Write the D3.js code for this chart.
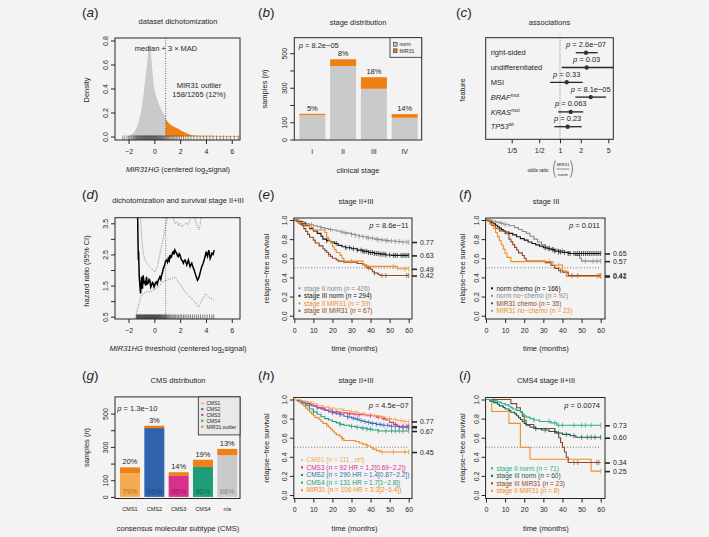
<!DOCTYPE html>
<html>
<head>
<meta charset="utf-8">
<script src="https://cdn.jsdelivr.net/npm/d3@7"></script>
<style>
  body { margin: 0; background: #f3f3f3; }
  svg { font-family: "Liberation Sans", Arial, Helvetica, sans-serif; }
</style>
</head>
<body>
<svg id="fig" width="709" height="537"></svg>
<script>
// ---------- (a) density of MIR31HG ----------
const aDensX = [-2.2, -2.0, -1.7, -1.36, -1.15, -0.97, -0.84, -0.71, -0.6, -0.53, -0.45, -0.38, -0.3, -0.2, -0.07, 0.05, 0.19, 0.32, 0.45, 0.58, 0.71, 0.88];
const aDensY = [0, 0.004, 0.02, 0.08, 0.15, 0.245, 0.35, 0.47, 0.57, 0.64, 0.72, 0.77, 0.72, 0.61, 0.45, 0.37, 0.32, 0.28, 0.245, 0.215, 0.19, 0.175];
const aOutX = [0.88, 1.05, 1.23, 1.5, 1.75, 2.0, 2.26, 2.5, 2.78, 3.05, 3.3, 4.0, 5.0, 6.0, 6.7];
const aOutY = [0.15, 0.12, 0.1, 0.083, 0.068, 0.055, 0.04, 0.028, 0.015, 0.01, 0.008, 0.006, 0.005, 0.004, 0.003];
const cutoff = 0.88;
const aRug = [-2.45, -2.3, -2.12, -2.0, -1.91, -1.82, -1.74, -1.66, -1.6, -1.53, -1.47, -1.42, -1.37, -1.33, -1.28, -1.24, -1.19, -1.15, -1.11, -1.06, -1.02, -0.98, -0.93, -0.89, -0.85, -0.81, -0.77, -0.73, -0.69, -0.65, -0.61, -0.57, -0.53, -0.49, -0.45, -0.41, -0.37, -0.33, -0.29, -0.25, -0.21, -0.17, -0.13, -0.09, -0.05, -0.01, 0.03, 0.07, 0.11, 0.15, 0.19, 0.24, 0.28, 0.33, 0.37, 0.42, 0.46, 0.51, 0.56, 0.61, 0.66, 0.71, 0.77, 0.83, 0.9, 0.97, 1.04, 1.12, 1.2, 1.29, 1.38, 1.48, 1.59, 1.7, 1.83, 1.96, 2.1, 2.26, 2.43, 2.62, 2.83, 3.05, 3.3, 3.55, 3.8, 4.05, 4.3, 4.55, 4.82, 5.1, 5.35, 5.62, 5.9, 6.2, 6.5];

// ---------- (b) stage distribution ----------
const stages = ["I", "II", "III", "IV"];
const stageNorm = [141, 426, 294, 126];
const stageMir = [8, 39, 67, 21];
const stagePct = ["5%", "8%", "18%", "14%"];

// ---------- (c) associations ----------
const features = ["right-sided", "undifferentiated", "MSI", "BRAF", "KRAS", "TP53"];
const featSup = ["", "", "", "mut", "mut", "wt"];
const orEst = [2.38, 2.43, 1.25, 2.78, 1.43, 1.29];
const orLo = [1.69, 1.06, 0.72, 1.67, 0.94, 0.83];
const orHi = [3.51, 7.0, 2.13, 4.63, 2.17, 2.06];
const orP = ["2.6e\u221207", "0.03", "0.33", "8.1e\u221205", "0.063", "0.23"];
const orTicks = [0.2, 0.5, 1, 2, 5];
const orTickLab = ["1/5", "1/2", "1", "2", "5"];

// ---------- (d) threshold scan ----------
const dX = [-1.3, -1.27, -1.24, -1.22, -1.19, -1.17, -1.12, -1.07, -1.03, -0.99, -0.95, -0.92, -0.87, -0.8, -0.74, -0.68, -0.61, -0.55, -0.48, -0.41, -0.35, -0.28, -0.22, -0.15, -0.09, -0.02, 0.04, 0.1, 0.17, 0.23, 0.3, 0.37, 0.43, 0.5, 0.56, 0.62, 0.69, 0.75, 0.82, 0.88, 0.95, 1.02, 1.08, 1.15, 1.21, 1.28, 1.34, 1.4, 1.47, 1.53, 1.6, 1.66, 1.73, 1.8, 1.86, 1.93, 1.99, 2.06, 2.12, 2.19, 2.25, 2.32, 2.38, 2.45, 2.51, 2.58, 2.64, 2.71, 2.77, 2.84, 2.9, 2.97, 3.03, 3.1, 3.16, 3.25, 3.34, 3.42, 3.5, 3.59, 3.68, 3.77, 3.86, 3.94, 4.02, 4.07, 4.12, 4.17, 4.22, 4.28, 4.33, 4.4, 4.46, 4.55, 4.64];
const dHR = [3.9, 3.0, 2.32, 2.6, 2.1, 1.78, 1.5, 1.25, 1.45, 1.78, 1.55, 1.4, 1.83, 1.6, 1.62, 1.5, 1.78, 1.55, 1.57, 1.7, 1.67, 1.45, 1.51, 1.6, 1.57, 1.45, 1.51, 1.6, 1.62, 1.55, 1.67, 1.72, 1.78, 1.7, 1.83, 1.9, 2.04, 2.1, 2.2, 2.3, 2.32, 2.25, 2.37, 2.3, 2.48, 2.4, 2.43, 2.55, 2.59, 2.5, 2.64, 2.58, 2.54, 2.45, 2.43, 2.52, 2.48, 2.38, 2.32, 2.28, 2.22, 2.3, 2.32, 2.25, 2.16, 2.24, 2.32, 2.2, 2.11, 2.18, 2.22, 2.12, 2.06, 1.98, 1.9, 1.78, 1.67, 1.72, 1.83, 1.98, 2.11, 2.2, 2.32, 2.45, 2.59, 2.48, 2.43, 2.55, 2.64, 2.5, 2.37, 2.45, 2.54, 2.5, 2.64];
const dUpX = [-1.15, -1.05, -0.99, -0.93, -0.87, -0.8, -0.74, -0.6, -0.48, -0.35, -0.22, -0.1, 0.04, 0.15, 0.25, 0.35, 0.45, 0.55, 0.65, 0.75, 0.85, 0.95, 1.05, 1.3, 1.5, 1.62, 1.75, 1.88, 2.0, 2.15, 2.3, 2.45, 2.6, 2.75, 2.9, 3.1, 3.25, 3.35, 3.45, 3.55, 3.7];
const dUpHR = [4.2, 3.6, 3.07, 2.8, 2.59, 2.45, 2.32, 2.25, 2.16, 2.1, 2.06, 2.0, 1.94, 2.02, 2.15, 2.35, 2.55, 2.75, 2.95, 3.15, 3.35, 3.55, 3.75, 3.8, 3.62, 3.48, 3.55, 3.42, 3.5, 3.38, 3.46, 3.52, 3.45, 3.6, 3.75, 3.7, 3.5, 3.38, 3.3, 3.45, 3.9];
const dLoX = [-1.5, -1.42, -1.32, -1.2, -1.07, -0.87, -0.61, -0.35, -0.09, 0.17, 0.43, 0.69, 0.95, 1.15, 1.34, 1.6, 1.86, 2.12, 2.38, 2.58, 2.77, 2.97, 3.16, 3.3, 3.42, 3.55, 3.68, 3.81, 3.94, 4.07, 4.2, 4.33, 4.46, 4.64];
const dLoHR = [0.45, 0.55, 0.71, 0.92, 1.13, 1.24, 1.3, 1.3, 1.35, 1.4, 1.51, 1.62, 1.67, 1.7, 1.72, 1.78, 1.62, 1.46, 1.3, 1.2, 1.13, 1.05, 0.97, 0.88, 0.81, 0.9, 1.02, 1.12, 1.24, 1.2, 1.13, 1.1, 1.08, 1.02];
const dRug = [-1.38, -1.34, -1.3, -1.26, -1.22, -1.18, -1.14, -1.1, -1.06, -1.02, -0.98, -0.94, -0.9, -0.86, -0.82, -0.78, -0.74, -0.7, -0.66, -0.62, -0.58, -0.54, -0.5, -0.46, -0.42, -0.38, -0.34, -0.3, -0.26, -0.22, -0.18, -0.14, -0.1, -0.06, -0.02, 0.02, 0.06, 0.1, 0.14, 0.18, 0.22, 0.26, 0.3, 0.34, 0.38, 0.42, 0.46, 0.5, 0.55, 0.6, 0.65, 0.7, 0.75, 0.8, 0.86, 0.92, 0.98, 1.05, 1.12, 1.2, 1.28, 1.37, 1.46, 1.56, 1.66, 1.77, 1.88, 2.0, 2.12, 2.25, 2.38, 2.52, 2.66, 2.8, 2.95, 3.1, 3.26, 3.42, 3.58, 3.75, 3.92, 4.1, 4.28, 4.46, 4.6];

// ---------- (e) stage II+III ----------
const eIInorm = [[0,1],[2,0.99],[4,0.975],[6,0.96],[8,0.95],[10,0.94],[12,0.93],[14,0.92],[16,0.91],[18,0.9],[20,0.895],[22,0.885],[24,0.875],[26,0.865],[28,0.86],[30,0.85],[32,0.84],[34,0.83],[36,0.825],[38,0.815],[40,0.81],[42,0.8],[44,0.795],[46,0.79],[48,0.785],[50,0.78],[53,0.775],[56,0.77]];
const eIIInorm = [[0,1],[2,0.98],[4,0.96],[6,0.94],[8,0.91],[10,0.885],[12,0.86],[14,0.83],[15,0.8],[17,0.785],[19,0.77],[21,0.755],[23,0.735],[25,0.72],[27,0.71],[30,0.7],[33,0.685],[36,0.672],[39,0.66],[42,0.65],[45,0.643],[48,0.635],[51,0.63]];
const eIImir = [[0,1],[2,0.974],[5,0.95],[8,0.92],[10,0.895],[16,0.87],[17,0.82],[18,0.79],[19,0.76],[20,0.72],[21,0.69],[22,0.66],[24,0.63],[25,0.6],[26,0.57],[36,0.54],[37,0.515],[54,0.49]];
const eIIImir = [[0,1],[1,0.985],[2,0.97],[3,0.955],[4,0.94],[5,0.91],[6,0.88],[7,0.85],[8,0.82],[10,0.79],[11,0.76],[13,0.73],[15,0.7],[16,0.68],[17,0.66],[18,0.64],[19,0.62],[20,0.6],[22,0.585],[23,0.57],[26,0.56],[33,0.545],[36,0.53],[38,0.5],[40,0.485],[41,0.46],[42,0.445],[44,0.43],[45,0.42]];
const eIInormC = [9, 14, 19, 25, 27, 30, 32, 34, 36, 38, 39, 41, 43, 44, 46, 48, 49, 51, 53, 55, 57, 59, 60];
const eIIInormC = [5, 17, 22, 27, 29, 31, 33, 35, 36, 37, 38, 39, 40, 41, 42, 43, 44, 45, 46, 47, 48, 50, 52, 53, 54, 56, 57, 58, 59, 60];
const eIImirC = [30, 52, 58, 60];
const eIIImirC = [18, 39, 42, 46, 48, 59, 60];
const eLegend = ["stage II norm", "stage III norm", "stage II MIR31", "stage III MIR31"];
const eN = [426, 294, 39, 67];
const eEnd = [0.77, 0.63, 0.49, 0.42];

// ---------- (f) stage III, chemo ----------
const fNormChemo = [[0,1],[1,0.99],[2,0.98],[3,0.97],[4,0.96],[5,0.945],[6,0.93],[7,0.915],[8,0.9],[9,0.885],[10,0.875],[12,0.86],[14,0.845],[16,0.825],[18,0.805],[20,0.79],[22,0.77],[24,0.755],[26,0.74],[28,0.725],[30,0.71],[32,0.7],[34,0.69],[36,0.675],[38,0.665],[40,0.66],[43,0.65]];
const fNormNo = [[0,1],[3,0.99],[5,0.978],[7,0.967],[9,0.955],[12,0.94],[15,0.92],[17,0.9],[19,0.88],[21,0.86],[23,0.83],[25,0.8],[27,0.77],[29,0.74],[31,0.72],[33,0.705],[35,0.695],[38,0.68],[41,0.665],[44,0.65],[47,0.63],[49,0.6],[50,0.57]];
const fMirChemo = [[0,1],[2,0.971],[3,0.943],[5,0.914],[7,0.886],[10,0.857],[12,0.8],[13,0.771],[14,0.743],[15,0.714],[16,0.686],[17,0.657],[19,0.629],[20,0.6],[21,0.571],[31,0.555],[34,0.525],[36,0.495],[38,0.47],[40,0.455],[43,0.42]];
const fMirNo = [[0,1],[2,0.957],[4,0.913],[5,0.87],[6,0.826],[7,0.783],[8,0.739],[9,0.696],[10,0.652],[11,0.609],[13,0.565],[35,0.53],[40,0.47],[42,0.41]];
const fNormChemoC = [31, 33, 35, 36, 38, 39, 41, 43, 44, 46, 47, 48, 49, 50, 51, 52, 53, 54, 55, 56, 57, 58, 59, 60];
const fNormNoC = [8, 10, 29, 31, 33, 35, 40, 52, 56, 58, 60];
const fMirChemoC = [39, 45, 48, 59, 60];
const fMirNoC = [33, 38, 58, 60];
const fLegend = ["norm chemo", "norm no\u2212chemo", "MIR31 chemo", "MIR31 no\u2212chemo"];
const fN = [166, 92, 35, 23];
const fEnd = [0.65, 0.57, 0.42, 0.41];

// ---------- (g) CMS distribution ----------
const cms = ["CMS1", "CMS2", "CMS3", "CMS4", "n/a"];
const cmsMain = [141, 413, 126, 180, 250];
const cmsMir = [36, 14, 22, 43, 38];
const cmsTopPct = ["20%", "3%", "14%", "19%", "13%"];
const cmsBotPct = ["79%", "96%", "85%", "80%", "86%"];
const cmsLegend = ["CMS1", "CMS2", "CMS3", "CMS4", "MIR31 outlier"];

// ---------- (h) CMS survival ----------
const hCms1 = [[0,1],[3,0.985],[6,0.97],[9,0.955],[12,0.935],[15,0.92],[18,0.91],[21,0.9],[25,0.885],[29,0.87],[33,0.855],[37,0.84],[41,0.83],[45,0.815],[48,0.8],[51,0.79],[54,0.78],[57,0.77]];
const hCms3 = [[0,1],[3,0.978],[6,0.956],[9,0.934],[12,0.912],[16,0.89],[20,0.87],[24,0.86],[28,0.85],[32,0.84],[38,0.83],[43,0.815],[46,0.8],[48,0.785],[50,0.76],[52,0.74],[54,0.72]];
const hCms2 = [[0,1],[2,0.99],[4,0.975],[6,0.96],[8,0.945],[10,0.93],[12,0.915],[14,0.9],[16,0.885],[18,0.87],[20,0.86],[22,0.85],[24,0.84],[26,0.825],[28,0.815],[30,0.805],[32,0.795],[34,0.78],[36,0.77],[38,0.76],[40,0.75],[43,0.74],[46,0.73],[50,0.72],[55,0.71]];
const hCms4 = [[0,1],[2,0.985],[4,0.96],[6,0.935],[8,0.9],[10,0.87],[12,0.845],[14,0.82],[16,0.8],[18,0.785],[20,0.77],[22,0.755],[24,0.74],[26,0.73],[29,0.72],[32,0.71],[35,0.7],[38,0.69],[41,0.68],[44,0.67]];
const hMir = [[0,1],[1,0.99],[2,0.98],[3,0.965],[4,0.95],[5,0.93],[6,0.91],[7,0.89],[8,0.87],[9,0.85],[10,0.83],[11,0.81],[13,0.79],[14,0.77],[15,0.75],[17,0.73],[18,0.71],[19,0.69],[20,0.67],[21,0.65],[22,0.63],[24,0.61],[25,0.59],[26,0.57],[32,0.56],[34,0.545],[36,0.53],[38,0.515],[40,0.5],[41,0.48],[43,0.465],[45,0.45]];
const hCms1C = [10, 18, 26, 30, 33, 37, 42, 46, 50, 53, 56, 58, 60];
const hCms3C = [15, 22, 29, 34, 40, 44, 47, 53, 57, 59, 60];
const hCms2C = [7, 12, 20, 24, 28, 31, 33, 35, 37, 39, 41, 43, 45, 47, 49, 51, 53, 55, 57, 59, 60];
const hCms4C = [10, 24, 30, 33, 36, 38, 40, 44, 48, 51, 53, 55, 57, 60];
const hMirC = [17, 25, 38, 46, 52, 58, 60];
const hLegend = ["CMS1", "CMS3", "CMS2", "CMS4", "MIR31"];
const hN = [111, 92, 290, 131, 106];
const hHR = [" , ref)", " HR = 1.2[0.69\u22122.2])", " HR = 1.4[0.87\u22122.2])", " HR = 1.7[1\u22122.8])", " HR = 3.3[2\u22125.4])"];
const hEnd = [0.77, 0.72, 0.71, 0.67, 0.45];
const hEndLab = ["0.77", "", "", "0.67", "0.45"];

// ---------- (i) CMS4 stage II+III ----------
const iIInorm = [[0,1],[3,0.986],[6,0.972],[8,0.958],[10,0.944],[12,0.93],[13,0.915],[14,0.9],[16,0.886],[18,0.87],[19,0.85],[20,0.83],[21,0.815],[23,0.8],[25,0.785],[28,0.77],[34,0.755],[37,0.73]];
const iIIInorm = [[0,1],[2,0.983],[4,0.967],[6,0.95],[7,0.933],[9,0.917],[10,0.9],[12,0.883],[13,0.867],[15,0.85],[16,0.83],[17,0.81],[18,0.79],[19,0.77],[20,0.75],[21,0.73],[23,0.71],[26,0.695],[29,0.68],[33,0.665],[37,0.65],[40,0.635],[44,0.62],[47,0.605]];
const iIIImir = [[0,1],[13,0.957],[16,0.913],[18,0.87],[19,0.826],[20,0.783],[21,0.739],[25,0.696],[36,0.652],[38,0.6],[39,0.55],[40,0.5],[41,0.45],[42,0.395],[43,0.34]];
const iIImir = [[0,1],[3,0.875],[12,0.75],[18,0.5],[23,0.375],[55,0.25]];
const iIInormC = [5, 25, 33, 36, 38, 40, 46, 50, 52, 55, 60];
const iIIInormC = [26, 31, 36, 38, 42, 46, 50, 53, 55, 57, 60];
const iIIImirC = [4, 46, 48, 58, 59];
const iIImirC = [60];
const iLegend = ["stage II norm", "stage III norm", "stage III MIR31", "stage II MIR31"];
const iN = [71, 60, 23, 8];
const iEnd = [0.73, 0.60, 0.34, 0.25];

// ---------- colours ----------
const ink = "#262626";
const bg = "#f3f3f3";
const greyBar = "#cacaca";
const orange = "#f07f14";
const kmGrey = "#8a8a8a", kmBlack = "#141414", kmOrange = "#f28b26", kmBrown = "#8c4a28";
const cmsCol = ["#f6aa52", "#2f64ac", "#d8318b", "#1f9d78", greyBar];
const hCol = ["#f6aa52", "#d8318b", "#3a6cb2", "#1f9d78", kmOrange];
const iCol = ["#2bae88", "#1c5a47", kmBrown, kmOrange];

const svg = d3.select("#fig");
svg.append("rect").attr("width", 709).attr("height", 537).attr("fill", bg);

// text with italic / sub / superscript pieces
function rich(x, y, parts, o = {}) {
  const size = o.size || 7.5;
  const t = svg.append("text").attr("x", x).attr("y", y).attr("font-size", size)
    .attr("fill", o.fill || ink).attr("text-anchor", o.anchor || "middle");
  if (o.rot) t.attr("transform", `rotate(${o.rot},${x},${y})`);
  let shift = 0;
  [].concat(parts).forEach(p => {
    if (typeof p === "string") p = { t: p };
    const want = p.sub ? size * 0.3 : p.sup ? -size * 0.4 : 0;
    const s = t.append("tspan").text(p.t).attr("dy", want - shift);
    shift = want;
    if (p.it) s.attr("font-style", "italic");
    if (p.sub || p.sup) s.attr("font-size", size * 0.68);
  });
  return t;
}

function panelLabel(x, y, letter) {
  rich(x, y, ["(", { t: letter, it: true }, ")"], { size: 13.5, anchor: "start" });
}

function box(x0, y0, x1, y1) {
  svg.append("rect").attr("x", x0).attr("y", y0).attr("width", x1 - x0).attr("height", y1 - y0)
    .attr("fill", "none").attr("stroke", ink).attr("stroke-width", 1);
}

function xAxis(scale, y, vals, fmt, size = 7) {
  const g = svg.append("g").attr("transform", `translate(0,${y})`)
    .call(d3.axisBottom(scale).tickValues(vals).tickFormat(fmt).tickSize(4).tickPadding(5));
  g.select(".domain").remove();
  g.attr("font-family", null).attr("font-size", size).attr("color", ink);
  return g;
}

function yAxis(scale, x, vals, fmt) {
  const g = svg.append("g").attr("transform", `translate(${x},0)`)
    .call(d3.axisLeft(scale).tickValues(vals).tickFormat(fmt).tickSize(4));
  g.select(".domain").remove();
  g.attr("font-family", null).attr("font-size", 7).attr("color", ink);
  g.selectAll("text").attr("x", 0).attr("dy", null).attr("text-anchor", "middle")
    .attr("transform", "translate(-7,0) rotate(-90)");
  return g;
}

function endAxis(scale, x, vals, labs) {
  const g = svg.append("g").attr("transform", `translate(${x},0)`)
    .call(d3.axisRight(scale).tickValues(vals).tickFormat((d, i) => labs[i]).tickSize(5).tickPadding(3));
  g.select(".domain").remove();
  g.attr("font-family", null).attr("font-size", 7).attr("color", ink);
  g.selectAll("line").attr("stroke-width", 1.6);
  return g;
}

function stepAt(pts, t) {
  let s = pts[0][1];
  pts.forEach(p => { if (p[0] <= t) s = p[1]; });
  return s;
}

function kmCurve(xs, ys, pts, cens, color) {
  const last = pts[pts.length - 1][1];
  const data = pts.concat([[60, last]]);
  svg.append("path").datum(data)
    .attr("d", d3.line().x(d => xs(d[0])).y(d => ys(d[1])).curve(d3.curveStepAfter))
    .attr("fill", "none").attr("stroke", color).attr("stroke-width", 1.1);
  svg.append("g").selectAll("line").data(cens).join("line")
    .attr("x1", d => xs(d)).attr("x2", d => xs(d))
    .attr("y1", d => ys(stepAt(pts, d)) - 2.5).attr("y2", d => ys(stepAt(pts, d)) + 2.5)
    .attr("stroke", color).attr("stroke-width", 0.7);
}

function kmLegend(x, ys, labels, ns, extra, colors, size = 6.5) {
  labels.forEach((lab, i) => {
    svg.append("rect").attr("x", x - 1).attr("y", ys[i] - 3.2).attr("width", 2).attr("height", 2).attr("fill", colors[i]);
    rich(x + 4.5, ys[i], [lab + " (", { t: "n", it: true }, " = " + ns[i] + (extra ? extra[i] : ")")],
      { size: size, anchor: "start", fill: colors[i] });
  });
}

function kmFrame(xs, ys, bx0, by0, bx1, by1) {
  svg.append("line").attr("x1", xs(0)).attr("x2", xs(60)).attr("y1", ys(0.5)).attr("y2", ys(0.5))
    .attr("stroke", "#555").attr("stroke-width", 0.8).attr("stroke-dasharray", "1,1.8");
  box(bx0, by0, bx1, by1);
  xAxis(xs, by1, [0, 10, 20, 30, 40, 50, 60], d3.format("d"));
  yAxis(ys, bx0, [0, 0.2, 0.4, 0.6, 0.8, 1.0], d3.format(".1f"));
}

// ================= (a) =================
{
  const x = d3.scaleLinear().domain([-3.05, 6.64]).range([115, 240]);
  const y = d3.scaleLinear().domain([-0.029, 0.821]).range([140, 38]);
  const area = d3.area().x(d => x(d[0])).y0(y(0)).y1(d => y(d[1])).curve(d3.curveMonotoneX);
  svg.append("path").datum(d3.zip(aDensX, aDensY)).attr("d", area).attr("fill", greyBar);
  svg.append("path").datum(d3.zip(aOutX, aOutY)).attr("d", area).attr("fill", orange);
  svg.append("g").selectAll("line").data(aRug).join("line")
    .attr("x1", d => x(d)).attr("x2", d => x(d)).attr("y1", 140).attr("y2", 135.5)
    .attr("stroke", "#000").attr("stroke-opacity", 0.5).attr("stroke-width", 0.8);
  svg.append("line").attr("x1", x(cutoff)).attr("x2", x(cutoff)).attr("y1", 38).attr("y2", 140)
    .attr("stroke", "#444").attr("stroke-width", 0.8).attr("stroke-dasharray", "1,1.5");
  box(115, 38, 240, 140);
  xAxis(x, 140, [-2, 0, 2, 4, 6], d3.format("d"));
  yAxis(y, 115, [0, 0.2, 0.4, 0.6, 0.8], d3.format(".1f"));
  rich(166, 51, "median + 3 \u00d7 MAD");
  rich(199, 87.5, "MIR31 outlier");
  rich(199, 96.5, "158/1265 (12%)");
  panelLabel(82, 17, "a");
  rich(178, 24, "dataset dichotomization");
  rich(178, 171.5, [{ t: "MIR31HG", it: true }, " (centered log", { t: "2", sub: true }, "signal)"]);
  rich(88.5, 90, "Density", { rot: -90 });
}

// ================= (b) =================
{
  const x = d3.scaleBand().domain(stages).range([299.3, 417.7]).paddingInner(0.156).paddingOuter(0);
  const y = d3.scaleLinear().domain([0, 590]).range([139.5, 37.7]);
  stages.forEach((s, i) => {
    svg.append("rect").attr("x", x(s)).attr("width", x.bandwidth())
      .attr("y", y(stageNorm[i])).attr("height", y(0) - y(stageNorm[i])).attr("fill", greyBar);
    svg.append("rect").attr("x", x(s)).attr("width", x.bandwidth())
      .attr("y", y(stageNorm[i] + stageMir[i])).attr("height", y(stageNorm[i]) - y(stageNorm[i] + stageMir[i]))
      .attr("fill", orange);
    rich(x(s) + x.bandwidth() / 2, y(stageNorm[i] + stageMir[i]) - 3, stagePct[i]);
  });
  box(294.3, 37.7, 421.7, 140);
  xAxis(x, 140, stages, d => d).selectAll(".tick line").remove();
  yAxis(y, 294.3, [0, 100, 200, 300, 400, 500], d => (d === 200 || d === 400) ? "" : d);
  // legend
  svg.append("rect").attr("x", 390).attr("y", 37.7).attr("width", 31.7).attr("height", 19.6)
    .attr("fill", bg).attr("stroke", ink).attr("stroke-width", 0.8);
  [["norm", greyBar, 44.3], ["MIR31", orange, 50.7]].forEach(l => {
    svg.append("rect").attr("x", 393.5).attr("y", l[2] - 1.8).attr("width", 3.6).attr("height", 3.6)
      .attr("fill", l[1]).attr("stroke", ink).attr("stroke-width", 0.6);
    rich(399.5, l[2] + 1.8, l[0], { size: 5, anchor: "start" });
  });
  rich(298.7, 47.5, [{ t: "p", it: true }, " = 8.2e\u221205"], { anchor: "start" });
  panelLabel(258, 17, "b");
  rich(358, 24.5, "stage distribution");
  rich(358, 173, "clinical stage");
  rich(267, 89, ["samples (", { t: "n", it: true }, ")"], { rot: -90 });
}

// ================= (c) =================
{
  const x = d3.scaleLog().domain([0.0841, 5.906]).range([485.7, 613.3]).clamp(true);
  const y = d3.scalePoint().domain(features).range([52.7, 126.7]);
  svg.append("line").attr("x1", x(1)).attr("x2", x(1)).attr("y1", 37.7).attr("y2", 139.3)
    .attr("stroke", "#666").attr("stroke-width", 0.8).attr("stroke-dasharray", "1,1.5");
  features.forEach((f, i) => {
    const yy = y(f);
    svg.append("line").attr("x1", x(orLo[i])).attr("x2", x(orHi[i])).attr("y1", yy).attr("y2", yy)
      .attr("stroke", ink).attr("stroke-width", 1.3);
    svg.append("circle").attr("cx", x(orEst[i])).attr("cy", yy).attr("r", 2.2).attr("fill", "#333");
    rich(x(orEst[i]), yy - 5.5, [{ t: "p", it: true }, " = " + orP[i]]);
    const lab = featSup[i] ? [{ t: f, it: true }, { t: featSup[i], sup: true }] : f;
    rich(490.7, yy + 2.6, lab, { anchor: "start" });
  });
  box(485.7, 37.7, 613.3, 139.3);
  xAxis(x, 139.3, orTicks, (d, i) => orTickLab[i]);
  panelLabel(456, 17, "c");
  rich(549.5, 24.5, "associations");
  rich(465.2, 90, "feature", { rot: -90 });
  rich(538, 171.5, "odds ratio", { size: 4.8 });
  svg.append("path").attr("d", "M555.5,160.5 Q551.5,169 555.5,177.5").attr("fill", "none").attr("stroke", ink).attr("stroke-width", 0.6);
  svg.append("path").attr("d", "M570.5,160.5 Q574.5,169 570.5,177.5").attr("fill", "none").attr("stroke", ink).attr("stroke-width", 0.6);
  svg.append("line").attr("x1", 556.5).attr("x2", 569.5).attr("y1", 169).attr("y2", 169).attr("stroke", ink).attr("stroke-width", 0.5);
  rich(563, 166, "MIR31", { size: 4.3 });
  rich(563, 175.5, "norm", { size: 4.3 });
}

// ================= (d) =================
{
  const x = d3.scaleLinear().domain([-3.05, 6.64]).range([115, 240]);
  const y = d3.scaleLinear().domain([0.426, 3.68]).range([319, 217.7]);
  svg.append("clipPath").attr("id", "clipD").append("rect").attr("x", 115).attr("y", 217.7).attr("width", 125).attr("height", 101.3);
  const g = svg.append("g").attr("clip-path", "url(#clipD)");
  const line = d3.line().x(d => x(d[0])).y(d => y(d[1]));
  g.append("path").datum(d3.zip(dUpX, dUpHR)).attr("d", line).attr("fill", "none")
    .attr("stroke", "#777").attr("stroke-width", 0.9).attr("stroke-dasharray", "1,1.3");
  g.append("path").datum(d3.zip(dLoX, dLoHR)).attr("d", line).attr("fill", "none")
    .attr("stroke", "#777").attr("stroke-width", 0.9).attr("stroke-dasharray", "1,1.3");
  g.append("path").datum(d3.zip(dX, dHR)).attr("d", line).attr("fill", "none")
    .attr("stroke", "#000").attr("stroke-width", 1.5);
  g.append("line").attr("x1", x(cutoff)).attr("x2", x(cutoff)).attr("y1", 217.7).attr("y2", 319)
    .attr("stroke", "#555").attr("stroke-width", 0.8).attr("stroke-dasharray", "1,1.5");
  svg.append("g").selectAll("line").data(dRug).join("line")
    .attr("x1", d => x(d)).attr("x2", d => x(d)).attr("y1", 319).attr("y2", 314.5)
    .attr("stroke", "#000").attr("stroke-opacity", 0.6).attr("stroke-width", 0.8);
  box(115, 217.7, 240, 319);
  xAxis(x, 319, [-2, 0, 2, 4, 6], d3.format("d"));
  yAxis(y, 115, [0.5, 1, 1.5, 2, 2.5, 3, 3.5], d => (Math.round(d * 2) % 2 === 1) ? d.toFixed(1) : "");
  panelLabel(82, 199, "d");
  rich(178, 203, "dichotomization and survival stage II+III");
  rich(178, 351, [{ t: "MIR31HG", it: true }, " threshold (centered log", { t: "2", sub: true }, "signal)"]);
  rich(88.5, 271, "hazard ratio (95% CI)", { rot: -90 });
}

// ================= (e) =================
{
  const x = d3.scaleLinear().domain([0, 60]).range([294.3, 408.7]);
  const y = d3.scaleLinear().domain([0, 1]).range([315.7, 220]);
  kmFrame(x, y, 293.8, 218, 412, 319);
  kmCurve(x, y, eIInorm, eIInormC, kmGrey);
  kmCurve(x, y, eIIInorm, eIIInormC, kmBlack);
  kmCurve(x, y, eIIImir, eIIImirC, kmBrown);
  kmCurve(x, y, eIImir, eIImirC, kmOrange);
  endAxis(y, 412, eEnd, eEnd.map(d3.format(".2f")));
  kmLegend(299.5, [290.5, 298, 305.5, 313], eLegend, eN, null, [kmGrey, kmBlack, kmOrange, kmBrown]);
  rich(408.7, 228, [{ t: "p", it: true }, " = 8.6e\u221211"], { anchor: "end" });
  panelLabel(258, 199, "e");
  rich(356, 203.5, "stage II+III");
  rich(354.5, 351, "time (months)");
  rich(268.5, 268.5, "relapse\u2212free survival", { rot: -90 });
}

// ================= (f) =================
{
  const x = d3.scaleLinear().domain([0, 60]).range([486, 600.7]);
  const y = d3.scaleLinear().domain([0, 1]).range([315.7, 220]);
  kmFrame(x, y, 485.6, 218, 605, 319);
  kmCurve(x, y, fNormNo, fNormNoC, kmGrey);
  kmCurve(x, y, fNormChemo, fNormChemoC, kmBlack);
  kmCurve(x, y, fMirChemo, fMirChemoC, kmBrown);
  kmCurve(x, y, fMirNo, fMirNoC, kmOrange);
  endAxis(y, 605, fEnd, fEnd.map(d3.format(".2f")));
  kmLegend(492, [290.5, 298, 305.5, 313], fLegend, fN, null, [kmBlack, kmGrey, kmBrown, kmOrange]);
  rich(600, 228, [{ t: "p", it: true }, " = 0.011"], { anchor: "end" });
  panelLabel(459, 199, "f");
  rich(546, 203.5, "stage III");
  rich(545.8, 351, "time (months)");
  rich(465.2, 268.5, "relapse\u2212free survival", { rot: -90 });
}

// ================= (g) =================
{
  const x = d3.scaleBand().domain(cms).range([120, 237.3]).paddingInner(0.177).paddingOuter(0);
  const y = d3.scaleLinear().domain([0, 600]).range([496.9, 396.9]);
  cms.forEach((c, i) => {
    const top = cmsMain[i] + cmsMir[i];
    svg.append("rect").attr("x", x(c)).attr("width", x.bandwidth())
      .attr("y", y(cmsMain[i])).attr("height", y(0) - y(cmsMain[i])).attr("fill", cmsCol[i]);
    svg.append("rect").attr("x", x(c)).attr("width", x.bandwidth())
      .attr("y", y(top)).attr("height", y(cmsMain[i]) - y(top)).attr("fill", orange);
    rich(x(c) + x.bandwidth() / 2, y(top) - 3, cmsTopPct[i]);
    rich(x(c) + x.bandwidth() / 2, 494.3, cmsBotPct[i], { fill: d3.color(cmsCol[i]).darker(1.1).formatHex() });
  });
  box(115, 396.9, 240, 498.5);
  xAxis(x, 498.5, cms, d => d, 5.5).selectAll(".tick line").remove();
  yAxis(y, 115, [0, 100, 200, 300, 400, 500], d => (d === 200 || d === 400) ? "" : d);
  svg.append("rect").attr("x", 198.3).attr("y", 396.9).attr("width", 41.7).attr("height", 38)
    .attr("fill", "#e9e9e9").attr("stroke", ink).attr("stroke-width", 0.8);
  const legCol = cmsCol.slice(0, 4).concat([orange]);
  const legY = [403.3, 409.1, 414.9, 420.8, 426.7];
  cmsLegend.forEach((l, i) => {
    svg.append("rect").attr("x", 201.3).attr("y", legY[i] - 1).attr("width", 2).attr("height", 2).attr("fill", legCol[i]);
    rich(206.5, legY[i] + 1.8, l, { size: 5, anchor: "start" });
  });
  rich(117.3, 411, [{ t: "p", it: true }, " = 1.3e\u221210"], { anchor: "start" });
  panelLabel(82, 380, "g");
  rich(178, 383, "CMS distribution");
  rich(178, 531, "consensus molecular subtype (CMS)");
  rich(88.5, 447.5, ["samples (", { t: "n", it: true }, ")"], { rot: -90 });
}

// ================= (h) =================
{
  const x = d3.scaleLinear().domain([0, 60]).range([294.3, 408.7]);
  const y = d3.scaleLinear().domain([0, 1]).range([495, 399.5]);
  kmFrame(x, y, 293.8, 397.5, 412, 498.5);
  kmCurve(x, y, hMir, hMirC, hCol[4]);
  kmCurve(x, y, hCms4, hCms4C, hCol[3]);
  kmCurve(x, y, hCms2, hCms2C, hCol[2]);
  kmCurve(x, y, hCms3, hCms3C, hCol[1]);
  kmCurve(x, y, hCms1, hCms1C, hCol[0]);
  endAxis(y, 412, hEnd, hEndLab);
  kmLegend(302, [462, 469.6, 477.2, 484.8, 492.4], hLegend, hN, hHR, hCol);
  rich(408.7, 408, [{ t: "p", it: true }, " = 4.5e\u221207"], { anchor: "end" });
  panelLabel(258, 380, "h");
  rich(356, 383, "stage II+III");
  rich(354.5, 531, "time (months)");
  rich(268.5, 448, "relapse\u2212free survival", { rot: -90 });
}

// ================= (i) =================
{
  const x = d3.scaleLinear().domain([0, 60]).range([486, 600.7]);
  const y = d3.scaleLinear().domain([0, 1]).range([495, 399.5]);
  kmFrame(x, y, 485.6, 397.5, 605, 498.5);
  kmCurve(x, y, iIImir, iIImirC, iCol[3]);
  kmCurve(x, y, iIIImir, iIIImirC, iCol[2]);
  kmCurve(x, y, iIIInorm, iIIInormC, iCol[1]);
  kmCurve(x, y, iIInorm, iIInormC, iCol[0]);
  endAxis(y, 605, iEnd, iEnd.map(d3.format(".2f")));
  kmLegend(492, [470.5, 478, 485.5, 493], iLegend, iN, null, iCol);
  rich(600, 408, [{ t: "p", it: true }, " = 0.0074"], { anchor: "end" });
  panelLabel(459, 380, "i");
  rich(546, 383, "CMS4 stage II+III");
  rich(545.8, 531, "time (months)");
  rich(465.2, 448, "relapse\u2212free survival", { rot: -90 });
}
</script>
</body>
</html>
